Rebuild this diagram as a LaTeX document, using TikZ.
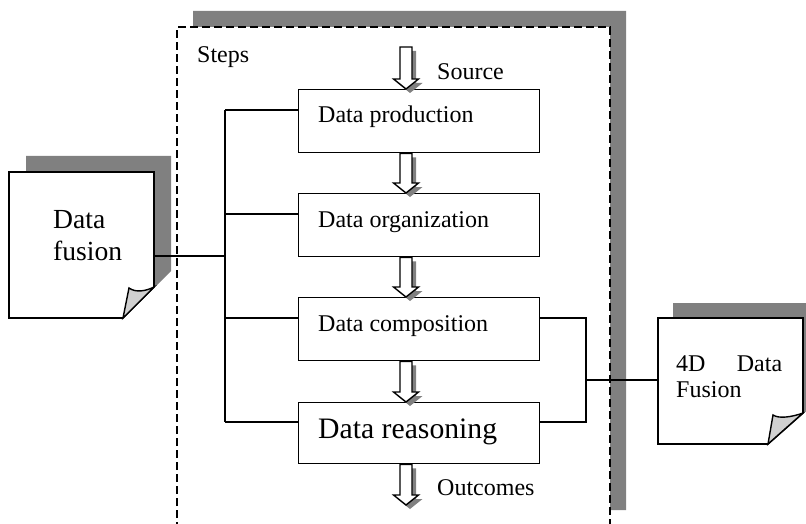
\documentclass[tikz,border=0pt]{standalone}
\usepackage{fontspec}
\setmainfont{Liberation Serif}
\usetikzlibrary{calc}
\definecolor{shadowgray}{HTML}{808080}
\definecolor{flapgray}{HTML}{D0D0D0}
\tikzset{
 stepbox/.style={draw, line width=1.4pt, minimum width=241pt, minimum height=63pt, anchor=north west, inner sep=0pt},
 wire/.style={line width=1.4pt},
 lbl/.style={inner sep=0pt, anchor=base west, font=\fontsize{24}{26}\selectfont},
 note/.style={draw, line width=1.6pt, fill=white, line join=miter},
 flap/.style={draw, line width=1.4pt, fill=flapgray, line join=miter},
 notetext/.style={anchor=north west, inner sep=0pt, align=left},
}
\newcommand\blockarr[2]{%
 \fill[shadowgray] let \p1=(#1), \p2=(#2) in
  (\x1-2pt,\y1-4pt) -- (\x1+10pt,\y1-4pt) -- (\x1+10pt,\y2+6pt) -- (\x1+16.5pt,\y2+6pt) -- (\x1+4pt,\y2-4pt) -- (\x1-8.5pt,\y2+6pt) -- (\x1-2pt,\y2+6pt) -- cycle;
 \draw[line width=1.4pt, fill=white, line join=miter] let \p1=(#1), \p2=(#2) in
  (\x1-6pt,\y1) -- (\x1+6pt,\y1) -- (\x1+6pt,\y2+10pt) -- (\x1+12.5pt,\y2+10pt) -- (\x1,\y2) -- (\x1-12.5pt,\y2+10pt) -- (\x1-6pt,\y2+10pt) -- cycle;}
\begin{document}
\begin{tikzpicture}[x=1pt,y=-1pt]
\useasboundingbox (0,0) rectangle (806,524);
\clip (0,0) rectangle (806,524);
% frame of the steps
\fill[shadowgray] (193,11) -- (626,11) -- (626,510) -- (610,510) -- (610,27) -- (193,27) -- cycle;
\draw[line width=1.7pt, dash pattern=on 8pt off 4pt] (177,530) -- (177,27) -- (610,27) -- (610,530);
\node[lbl] (steps) at (197,63) {Steps};
% step boxes
\node[stepbox] (prod) at (298,89) {};
\node[lbl] (prodT) at (318,123) {Data production};
\node[stepbox] (org) at (298,193) {};
\node[lbl] (orgT) at (318,227) {Data organization};
\node[stepbox] (comp) at (298,297) {};
\node[lbl] (compT) at (318,331) {Data composition};
\node[stepbox, minimum height=61pt] (reas) at (298,402) {};
\node[lbl, font=\fontsize{29.7}{32}\selectfont] (reasT) at (318,438) {Data reasoning};
% left note
\fill[shadowgray] (26,156) -- (171,156) -- (171,271) -- (140,302) -- (26,302) -- cycle;
\draw[note] (9,172) -- (154,172) -- (154,287) -- (123,318) -- (9,318) -- cycle;
\draw[flap] (123,318) -- (129,288) .. controls (136,293) and (146,291) .. (154,287) -- cycle;
\node[notetext, font=\fontsize{27.6}{32}\selectfont] (fusionT) at (53,210) {Data\\fusion};
\coordinate (fusionE) at (154,256);
% right note
\fill[shadowgray] (673,303) -- (820,303) -- (820,398) -- (785,429) -- (673,429) -- cycle;
\draw[note] (658,318) -- (803,318) -- (803,413) -- (768,444) -- (658,444) -- cycle;
\draw[flap] (768,444) -- (773,415) .. controls (779,419) and (792,417) .. (803,413) -- cycle;
\node[notetext, text width=106pt, font=\fontsize{24}{26}\selectfont] (fourT) at (676,356) {4D\hfill Data\\Fusion};
\coordinate (fourW) at (658,380);
% left bus
\coordinate (b1) at (225,110);
\coordinate (b2) at (225,214);
\coordinate (bf) at (225,256);
\coordinate (b3) at (225,318);
\coordinate (b4) at (225,422);
\draw[wire] (b1) -- (b4);
\draw[wire] (b1) -- (b1 -| prod.west);
\draw[wire] (b2) -- (b2 -| org.west);
\draw[wire] (b3) -- (b3 -| comp.west);
\draw[wire] (b4) -- (b4 -| reas.west);
\draw[wire] (fusionE) -- (bf);
% right bus
\coordinate (r1) at (586,318);
\coordinate (rm) at (586,380);
\coordinate (r2) at (586,422);
\draw[wire] (r1 -| comp.east) -- (r1) -- (r2) -- (r2 -| reas.east);
\draw[wire] (rm) -- (fourW);
% block arrows
\coordinate (ax) at (406,0);
\coordinate (srcTop) at (406,47);
\coordinate (outEnd) at (406,505);
\blockarr{srcTop}{prod.north -| ax}
\blockarr{prod.south -| ax}{org.north -| ax}
\blockarr{org.south -| ax}{comp.north -| ax}
\blockarr{comp.south -| ax}{reas.north -| ax}
\blockarr{reas.south -| ax}{outEnd}
\node[lbl] (srcT) at (437,80) {Source};
\node[lbl] (outT) at (437,495) {Outcomes};
\end{tikzpicture}
\end{document}
